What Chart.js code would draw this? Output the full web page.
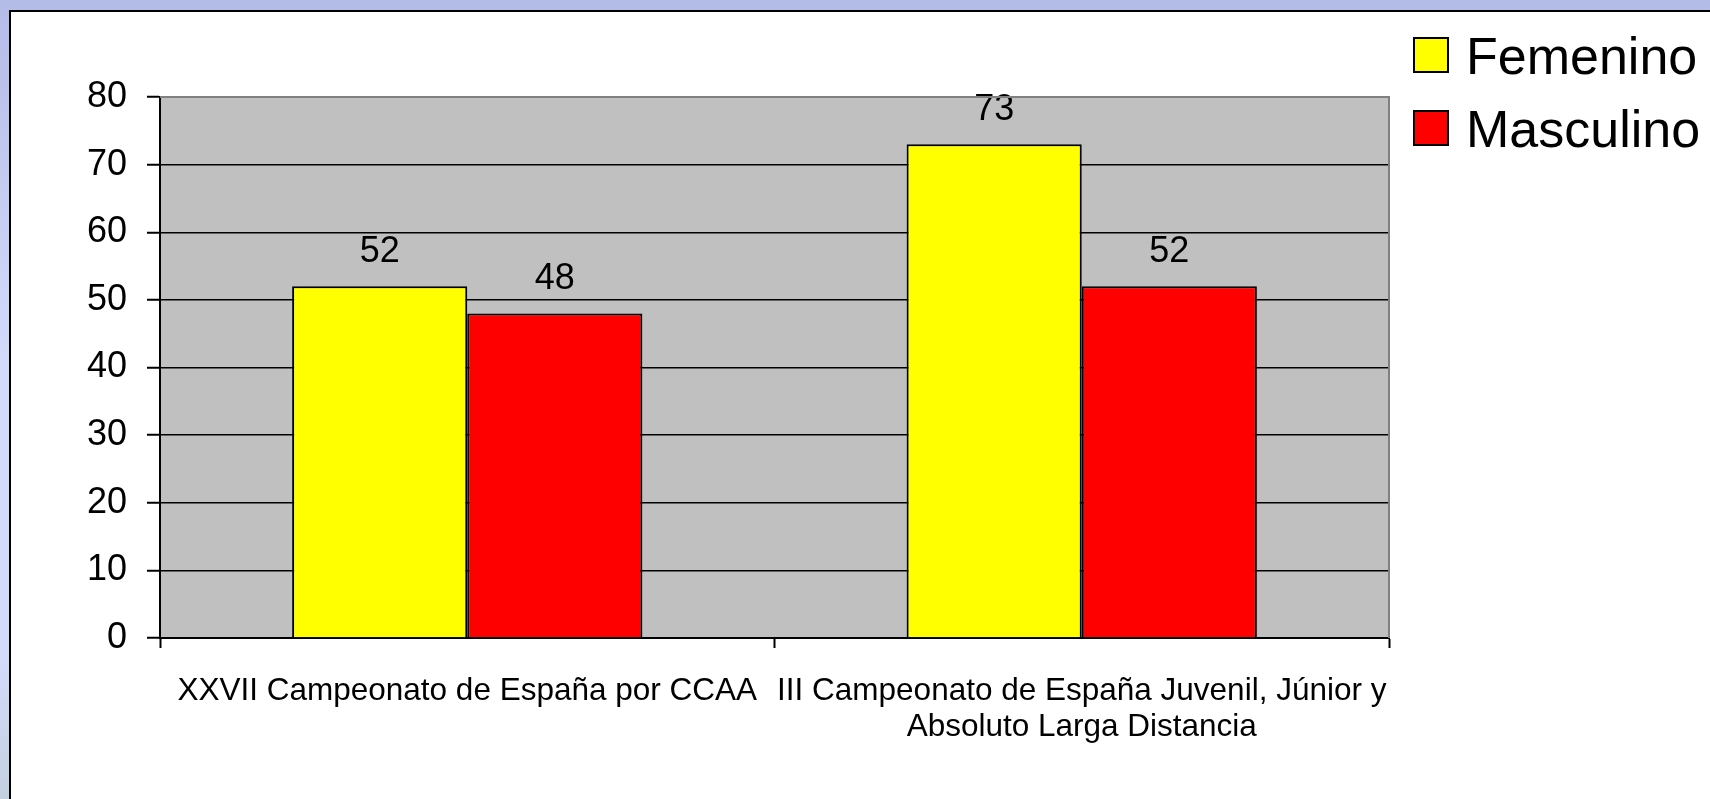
<!DOCTYPE html>
<html>
<head>
<meta charset="utf-8">
<script src="https://cdn.jsdelivr.net/npm/chart.js@4"></script>
<style>
  html, body { margin: 0; padding: 0; width: 1710px; height: 799px; overflow: hidden; }
  body { background: linear-gradient(#b3bbe7 0%, #d3dbfb 45%, #d3dbfb 82%, #c3d0e0 100%); position: relative; }
  #panel { position: absolute; left: 9px; top: 10px; width: 1720px; height: 810px; background: #fff; border-left: 2px solid #000; border-top: 2px solid #000; }
  #myCanvas { position: absolute; left: 0; top: 0; }
</style>
</head>
<body>
<div id="panel"></div>
<canvas id="myCanvas" width="1710" height="799"></canvas>
<script>
const FONT = '"Liberation Sans", Arial, sans-serif';

// Data
const categories = [
    'XXVII Campeonato de España por CCAA',
    ['III Campeonato de España Juvenil, Júnior y', 'Absoluto Larga Distancia'],
];
const femenino = [52, 73];
const masculino = [48, 52];
const seriesNames = ['Femenino', 'Masculino'];
const seriesColors = ['#ffff00', '#ff0000'];

// Gray plot background plus gray top/right frame
const plotFrame = {
    id: 'plotFrame',
    beforeDraw(chart) {
        const { ctx, chartArea: a } = chart;
        ctx.save();
        ctx.fillStyle = '#c0c0c0';
        ctx.fillRect(a.left, a.top, a.right - a.left, a.bottom - a.top);
        ctx.restore();
    },
    afterDraw(chart) {
        const { ctx, chartArea: a } = chart;
        ctx.save();
        ctx.strokeStyle = '#808080';
        ctx.lineWidth = 2;
        ctx.beginPath();
        ctx.moveTo(a.left, a.top);
        ctx.lineTo(a.right, a.top);
        ctx.lineTo(a.right, a.bottom);
        ctx.stroke();
        ctx.restore();
    },
};

// Value labels above each bar
const valueLabels = {
    id: 'valueLabels',
    afterDatasetsDraw(chart) {
        const ctx = chart.ctx;
        ctx.save();
        ctx.font = '36px ' + FONT;
        ctx.fillStyle = '#000';
        ctx.textAlign = 'center';
        ctx.textBaseline = 'middle';
        chart.data.datasets.forEach((ds, i) => {
            chart.getDatasetMeta(i).data.forEach((bar, j) => {
                ctx.fillText(String(ds.data[j]), bar.x, bar.y - 34);
            });
        });
        ctx.restore();
    },
};

// Legend in the top right corner
const sideLegend = {
    id: 'sideLegend',
    afterDraw(chart) {
        const ctx = chart.ctx;
        ctx.save();
        ctx.font = '52px ' + FONT;
        ctx.textBaseline = 'middle';
        chart.data.datasets.forEach((ds, i) => {
            const y = 38 + i * 73;
            ctx.fillStyle = ds.backgroundColor;
            ctx.fillRect(1414, y, 34, 34);
            ctx.strokeStyle = '#000';
            ctx.lineWidth = 2;
            ctx.strokeRect(1414, y, 34, 34);
            ctx.fillStyle = '#000';
            ctx.fillText(ds.label, 1466, y + 22);
        });
        ctx.restore();
    },
};

const ctx = document.getElementById('myCanvas').getContext('2d');

const chart = new Chart(ctx, {
    type: 'bar',
    data: {
        labels: categories,
        datasets: [
            { label: seriesNames[0], data: femenino, backgroundColor: seriesColors[0] },
            { label: seriesNames[1], data: masculino, backgroundColor: seriesColors[1] },
        ].map(ds => Object.assign(ds, {
            borderColor: '#000',
            borderWidth: 2,
            categoryPercentage: 0.57,
            barPercentage: 1,
        })),
    },
    options: {
        responsive: false,
        animation: false,
        layout: { padding: { left: 0, top: 97, right: 321, bottom: 0 } },
        plugins: {
            legend: { display: false },
            tooltip: { enabled: false },
        },
        scales: {
            x: {
                offset: true,
                afterFit(scale) { scale.height = 161; },
                grid: {
                    offset: true,
                    drawOnChartArea: false,
                    tickLength: 10,
                    tickColor: '#000',
                    tickWidth: 2,
                },
                border: { color: '#000', width: 2 },
                ticks: {
                    color: '#000',
                    padding: 26,
                    maxRotation: 0,
                    autoSkip: false,
                    font: { family: FONT, size: 31.5, lineHeight: 1.12 },
                },
            },
            y: {
                min: 0,
                max: 80,
                afterFit(scale) { scale.width = 160; },
                grid: {
                    color: c => (c.tick && c.tick.value === 80 ? '#808080' : '#000'),
                    lineWidth: 1.5,
                    tickLength: 13,
                    tickColor: '#000',
                    tickWidth: 2,
                },
                border: { color: '#000', width: 2 },
                ticks: {
                    stepSize: 10,
                    color: '#000',
                    padding: 20,
                    font: { family: FONT, size: 36 },
                },
            },
        },
    },
    plugins: [plotFrame, valueLabels, sideLegend],
});
</script>
</body>
</html>
